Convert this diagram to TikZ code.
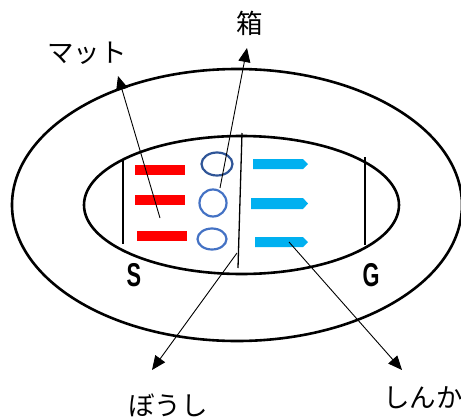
\documentclass[tikz,border=0pt]{standalone}
\usepackage{fontspec}
\newfontfamily\jpfont{Noto Sans CJK JP}
\newfontfamily\sgfont{Liberation Sans}
\usetikzlibrary{arrows.meta,shapes.geometric}
\definecolor{mred}{HTML}{FF0000}
\definecolor{mcyan}{HTML}{00B0F0}
\definecolor{mblue}{HTML}{4472C4}
\definecolor{mdblue}{HTML}{2F5597}
\tikzset{
  ring/.style={draw=black,line width=2.6pt},
  lane/.style={draw=black,line width=1.3pt},
  bar/.style={fill=mred,draw=none,minimum width=50pt,minimum height=10pt,inner sep=0pt,rectangle},
  hoop/.style={draw=mblue,line width=2.2pt,ellipse,inner sep=0pt},
  tag/.style={font=\jpfont\fontsize{26.5}{26.5}\selectfont,inner sep=0pt},
  sg/.style={font=\sgfont\bfseries\fontsize{33}{33}\selectfont,xscale=0.66,inner sep=0pt},
  lead/.style={draw=black,line width=0.9pt,-{Triangle[length=14pt,width=12pt]}},
  cy/.style={fill=mcyan,draw=none}
}
\begin{document}
\begin{tikzpicture}[x=1pt,y=-1pt]
\useasboundingbox (0,0) rectangle (461,418);
% ellipses
\draw[ring] (237,205) ellipse [x radius=225,y radius=136];
\draw[ring] (241.5,205) ellipse [x radius=157.5,y radius=69];
% lanes
\draw[lane] (123,159) -- (123,244);
\draw[lane] (242,133) -- (238,268);
\draw[lane] (365,157) -- (365,245);
% red mats
\node[bar] (m1) at (160,169.5) {};
\node[bar] (m2) at (160,200) {};
\node[bar] (m3) at (162,236) {};
% boxes
\node[hoop,draw=mdblue,minimum width=31pt,minimum height=23pt] (b1) at (217,164) {};
\node[hoop,minimum width=27pt,minimum height=27pt] (b2) at (213,203) {};
\node[hoop,minimum width=29pt,minimum height=21pt] (b3) at (212,239) {};
% cyan arrows
\fill[cy] (253,159) -- (303,159) -- (308,164) -- (303,169) -- (253,169) -- cycle;
\fill[cy] (251,198) -- (303,198) -- (308,203.5) -- (303,209) -- (251,209) -- cycle;
\fill[cy] (255,237) -- (303,237) -- (308,242) -- (303,247) -- (255,247) -- cycle;
% S G
\node[sg] (s) at (134,275) {S};
\node[sg] (g) at (371,275) {G};
% labels
\node[tag] (lmat) at (87,53) {マット};
\node[tag] (lhako) at (250,23) {箱};
\node[tag] (lboushi) at (168,405) {ぼうし};
\node[tag,anchor=west] (lshinka) at (383,398) {しんか};
% leader coordinates
\coordinate (cm) at (160,218);
\coordinate (tm) at (118,76);
\coordinate (ch) at (220,188);
\coordinate (th) at (247,48);
\coordinate (cb) at (237,253);
\coordinate (tb) at (152,370);
\coordinate (cs) at (289,242);
\coordinate (ts) at (402,370);
\draw[lead] (cm) -- (tm);
\draw[lead] (ch) -- (th);
\draw[lead] (cb) -- (tb);
\draw[lead] (cs) -- (ts);
\end{tikzpicture}
\end{document}
